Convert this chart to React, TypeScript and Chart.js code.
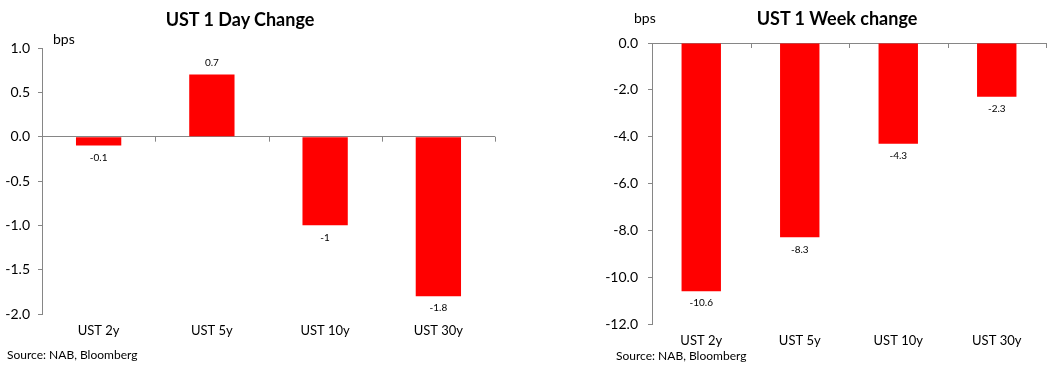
import React, { useEffect, useRef } from "react";
import { Chart, registerables } from "chart.js";

Chart.register(...registerables);

const categories = ["UST 2y", "UST 5y", "UST 10y", "UST 30y"];
const dayChange = [-0.1, 0.7, -1, -1.8];
const weekChange = [-10.6, -8.3, -4.3, -2.3];
const dayAxis = { min: -2, max: 1, step: 0.5 };
const weekAxis = { min: -12, max: 0, step: 2 };

const FONT = "Lato, 'Open Sans', sans-serif";
const AXIS_GRAY = "#868686";

type PanelProps = {
  left: number;
  width: number;
  values: number[];
  axis: { min: number; max: number; step: number };
  title: string;
  padTop: number;
  padRight: number;
  yWidth: number;
  xHeight: number;
  tickPad: number;
};

function Panel(p: PanelProps) {
  const ref = useRef<HTMLCanvasElement | null>(null);
  useEffect(() => {
    if (!ref.current) return;
    const labelPlugin = {
      id: "valueLabels",
      afterDatasetsDraw(chart: any) {
        const ctx = chart.ctx;
        const meta = chart.getDatasetMeta(0);
        ctx.save();
        ctx.font = `10px ${FONT}`;
        ctx.fillStyle = "#000";
        ctx.textAlign = "center";
        ctx.textBaseline = "middle";
        meta.data.forEach((el: any, i: number) => {
          const v = p.values[i];
          const y = v >= 0 ? el.y - 12 : el.y + 12;
          ctx.fillText(String(v), el.x, y);
        });
        // category boundary tick marks on the zero line
        const xs = chart.scales.x;
        const ys = chart.scales.y;
        const y0 = ys.getPixelForValue(0);
        ctx.strokeStyle = AXIS_GRAY;
        ctx.lineWidth = 1;
        const n = categories.length;
        for (let i = 1; i <= n; i++) {
          const x = Math.round(xs.left + (i * xs.width) / n) + 0.5;
          ctx.beginPath();
          ctx.moveTo(x, y0);
          ctx.lineTo(x, y0 + 5);
          ctx.stroke();
        }
        ctx.restore();
      },
    };
    const chart = new Chart(ref.current, {
      type: "bar",
      data: {
        labels: categories,
        datasets: [
          {
            data: p.values,
            backgroundColor: "#FF0000",
            borderWidth: 0,
            barPercentage: 1,
            categoryPercentage: 0.4,
          },
        ],
      },
      options: {
        responsive: false,
        animation: false,
        devicePixelRatio: 1,
        layout: { padding: { top: p.padTop, right: p.padRight, bottom: 0, left: 0 } },
        plugins: { legend: { display: false }, tooltip: { enabled: false }, title: { display: false } },
        scales: {
          x: {
            grid: { display: false, drawTicks: false },
            border: { display: false },
            ticks: { font: { family: FONT, size: 13 }, color: "#000", padding: p.tickPad, maxRotation: 0 },
            afterFit(scale: any) {
              scale.height = p.xHeight;
            },
          },
          y: {
            min: p.axis.min,
            max: p.axis.max,
            grid: {
              color: (c: any) => (c.tick && c.tick.value === 0 ? AXIS_GRAY : "rgba(0,0,0,0)"),
              tickColor: AXIS_GRAY,
              tickLength: 4,
              drawOnChartArea: true,
            },
            border: { display: true, color: AXIS_GRAY },
            ticks: {
              stepSize: p.axis.step,
              font: { family: FONT, size: 14 },
              color: "#000",
              padding: p.yWidth > 100 ? 10 : 8,
              callback: (v: any) => Number(v).toFixed(1),
            },
            afterFit(scale: any) {
              scale.width = p.yWidth;
            },
          },
        },
      },
      plugins: [labelPlugin],
    });
    return () => chart.destroy();
  }, []);
  return (
    <canvas
      ref={ref}
      width={p.width}
      height={366}
      style={{ position: "absolute", left: p.left, top: 0, width: p.width, height: 366 }}
    />
  );
}

const textBase: React.CSSProperties = {
  position: "absolute",
  fontFamily: FONT,
  color: "#000",
  whiteSpace: "nowrap",
  lineHeight: 1,
};

export default function App() {
  return (
    <div style={{ position: "fixed", left: 0, top: 0, width: 1061, height: 366, background: "#fff", overflow: "hidden" }}>
      <Panel left={0} width={530} values={dayChange} axis={dayAxis} title="UST 1 Day Change"
        padTop={48} padRight={35} yWidth={42} xHeight={52} tickPad={9} />
      <Panel left={530} width={531} values={weekChange} axis={weekAxis} title="UST 1 Week change"
        padTop={43} padRight={15} yWidth={122} xHeight={42} tickPad={9} />
      <div style={{ ...textBase, left: 240, top: 19, transform: "translate(-50%,-50%)", fontWeight: 700, fontSize: 18 }}>UST 1 Day Change</div>
      <div style={{ ...textBase, left: 837, top: 18, transform: "translate(-50%,-50%)", fontWeight: 700, fontSize: 18 }}>UST 1 Week change</div>
      <div style={{ ...textBase, left: 53, top: 39, transform: "translateY(-50%)", fontSize: 14 }}>bps</div>
      <div style={{ ...textBase, left: 634, top: 18, transform: "translateY(-50%)", fontSize: 14 }}>bps</div>
      <div style={{ ...textBase, left: 7, top: 355, transform: "translateY(-50%)", fontSize: 12 }}>Source: NAB, Bloomberg</div>
      <div style={{ ...textBase, left: 616, top: 356, transform: "translateY(-50%)", fontSize: 12 }}>Source: NAB, Bloomberg</div>
    </div>
  );
}
